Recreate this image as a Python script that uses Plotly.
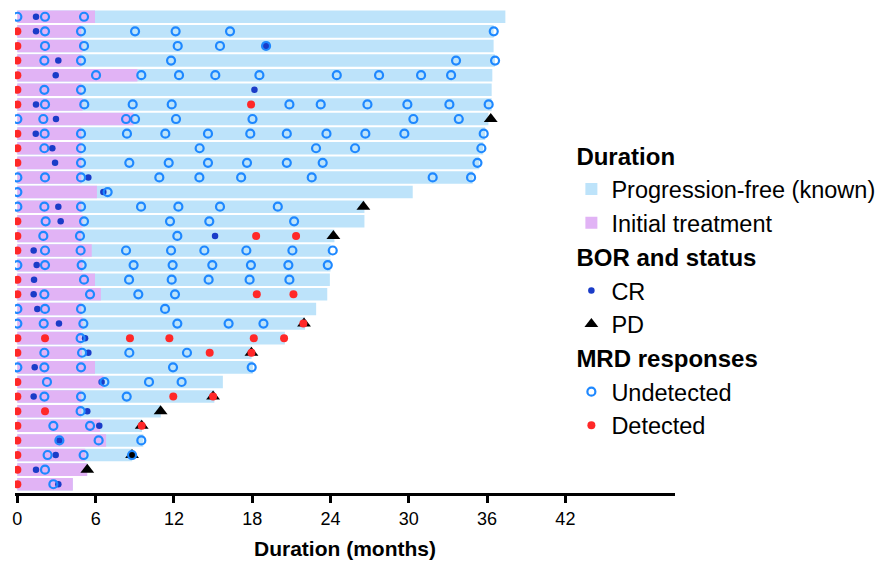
import plotly.graph_objects as go

# ---------------- data (months) ----------------
patients = list(range(1, 34))  # top to bottom

pfs_end = [37.4, 36.5, 36.5, 36.6, 36.4, 36.35, 36.35, 36.1, 35.85, 35.7, 35.4,
           34.9, 30.3, 26.6, 26.6, 24.3, 24.0, 24.0, 23.95, 23.75, 22.9, 22.05,
           20.5, 17.95, 18.05, 15.75, 15.1, 11.0, 9.55, 9.65, 8.8, 5.35, 4.25]

treat_end = [5.95, 4.9, 5.0, 4.9, 9.2, 4.9, 5.0, 8.9, 4.9, 4.9, 4.9,
             4.9, 6.1, 4.9, 5.0, 4.9, 5.7, 5.0, 5.95, 6.4, 4.9, 5.0,
             4.9, 4.95, 5.95, 6.6, 4.9, 4.9, 6.35, 6.8, 5.2, 5.35, 4.25]

cr_time = [1.43, 1.43, 19.06, 3.14, 2.94, 18.17, 1.43, 2.96, 1.41, 2.68, 2.89,
           5.44, 6.59, 3.14, 3.32, 15.15, 1.25, 1.48, 1.28, 1.25, 1.53, 3.19,
           5.19, 5.44, 1.33, 6.46, 1.25, 5.36, 6.28, 3.22, 2.94, 1.43, 3.14]

pd_patient = [8, 14, 16, 22, 24, 27, 28, 29, 31, 32]
pd_time = [36.28, 26.52, 24.22, 21.97, 17.94, 15.0, 10.98, 9.53, 8.79, 5.36]

mrd_undetected = [
    [0, 2.12, 5.11],
    [2.12, 4.88, 9.02, 12.13, 16.3, 36.51],
    [2.12, 5.11, 12.29, 15.53, 19.06],
    [2.07, 4.88, 11.78, 33.62, 36.61],
    [6.03, 9.5, 12.39, 15.17, 18.55, 24.48, 27.72, 30.94, 33.24],
    [2.07, 4.88],
    [2.12, 5.13, 8.84, 11.83, 20.85, 23.25, 26.83, 29.89, 33.11, 36.12],
    [0, 1.99, 8.33, 9.02, 12.16, 18.02, 30.35, 33.83],
    [2.09, 4.88, 8.4, 11.34, 14.61, 17.85, 20.65, 23.69, 26.67, 29.66, 35.74],
    [2.07, 4.88, 13.97, 22.89, 25.88, 35.56],
    [4.88, 8.58, 11.6, 14.61, 17.6, 20.65, 23.4, 35.26],
    [0, 2.12, 4.88, 10.88, 13.95, 17.15, 22.56, 31.83, 34.77],
    [0, 6.92],
    [0, 2.07, 4.88, 9.48, 12.34, 15.53, 19.96],
    [2.17, 5.11, 11.7, 14.71, 21.21],
    [1.99, 4.8, 12.26],
    [2.12, 4.85, 8.33, 11.78, 14.33, 17.55, 21.08, 24.17],
    [0, 2.12, 4.93, 8.91, 11.9, 14.94, 17.9, 20.77, 23.79],
    [5.11, 8.56, 11.83, 14.66, 17.8, 20.85],
    [2.07, 5.57, 9.27, 12.08],
    [0, 2.12, 4.88, 11.32],
    [0, 2.02, 5.06, 12.26, 16.19, 18.86],
    [4.85],
    [2.07, 4.96, 8.58, 13.0],
    [0, 2.07, 4.88, 11.93, 17.96],
    [2.27, 6.67, 10.09, 12.59],
    [2.07, 4.88, 8.38],
    [4.85],
    [2.76, 5.57],
    [3.22, 6.23, 9.5],
    [2.32, 5.08, 8.79],
    [2.12],
    [2.76],
]

mrd_detected = [
    [], [0], [0], [0], [0], [0], [0, 17.91], [], [0], [0], [0],
    [], [], [], [0], [0, 18.3, 21.36], [0], [], [0], [0, 18.35, 21.16], [], [21.92],
    [0, 2.12, 8.63, 11.65, 18.12, 20.44], [0, 14.74, 17.94], [], [0], [0, 11.95, 15.0],
    [0, 2.12], [0, 9.53], [0], [0], [0], [0],
]

x_ticks = [0, 6, 12, 18, 24, 30, 36, 42]

# ---------------- styling ----------------
FONT = "Liberation Sans, Arial, sans-serif"
C_PFS = "#bde3fa"
C_TX = "#e1b3f5"
C_CR = "#1a3cc8"
C_UND = "#1e88ff"
C_DET = "#ff2828"

und_x, und_y, det_x, det_y = [], [], [], []
for p, ts in zip(patients, mrd_undetected):
    und_x += ts
    und_y += [p] * len(ts)
for p, ts in zip(patients, mrd_detected):
    det_x += ts
    det_y += [p] * len(ts)

fig = go.Figure()

fig.add_trace(go.Bar(
    x=pfs_end, y=patients, base=0, orientation="h", width=0.86,
    marker=dict(color=C_PFS, line=dict(width=0)),
    name="Progression-free (known)", legendgroup="dur",
    legendgrouptitle=dict(text="<b>Duration</b>"),
))
fig.add_trace(go.Bar(
    x=treat_end, y=patients, base=0, orientation="h", width=0.86,
    marker=dict(color=C_TX, line=dict(width=0)),
    name="Initial treatment", legendgroup="dur",
))
fig.add_trace(go.Scatter(
    x=cr_time, y=patients, mode="markers",
    marker=dict(symbol="circle", size=6.5, color=C_CR),
    name="CR", legendgroup="bor",
    legendgrouptitle=dict(text="<b>BOR and status</b>"),
))
fig.add_trace(go.Scatter(
    x=pd_time, y=pd_patient, mode="markers",
    marker=dict(symbol="triangle-up", size=12, color="black"),
    name="PD", legendgroup="bor",
))
fig.add_trace(go.Scatter(
    x=und_x, y=und_y, mode="markers",
    marker=dict(symbol="circle-open", size=8, color=C_UND, line=dict(width=2.2, color=C_UND)),
    name="Undetected", legendgroup="mrd",
    legendgrouptitle=dict(text="<b>MRD responses</b>"),
))
fig.add_trace(go.Scatter(
    x=det_x, y=det_y, mode="markers",
    marker=dict(symbol="circle", size=8, color=C_DET),
    name="Detected", legendgroup="mrd",
))

fig.update_layout(
    width=880, height=562,
    margin=dict(l=15, r=205, t=8, b=69, autoexpand=False),
    paper_bgcolor="white", plot_bgcolor="white",
    barmode="overlay",
    font=dict(family=FONT, color="black"),
    showlegend=True,
    legend=dict(
        x=0.843, xanchor="left", y=0.742, yanchor="top",
        font=dict(size=23.5, family=FONT, color="black"),
        grouptitlefont=dict(size=24, family=FONT, color="black"),
        traceorder="grouped", tracegroupgap=0,
        bgcolor="rgba(0,0,0,0)",
    ),
    xaxis=dict(
        range=[-0.18, 50.4], tickvals=x_ticks, ticktext=[str(v) for v in x_ticks],
        showline=True, linecolor="black", linewidth=3,
        ticks="outside", ticklen=7, tickwidth=3, tickcolor="black",
        showgrid=False, zeroline=False,
        tickfont=dict(size=18, family=FONT),
        title=dict(text="<b>Duration (months)</b>", font=dict(size=21, family=FONT), standoff=14),
    ),
    yaxis=dict(
        range=[33.6, 0.4], showticklabels=False, showline=False,
        showgrid=False, zeroline=False, ticks="",
    ),
)

fig.write_html("out.html")
